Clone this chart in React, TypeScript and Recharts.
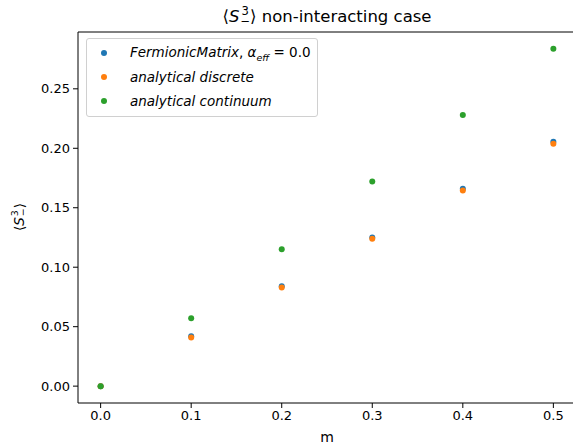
import React from 'react'
import {
  ScatterChart,
  Scatter,
  XAxis,
  YAxis,
  ReferenceLine,
} from 'recharts'

const mValues = [0.0, 0.1, 0.2, 0.3, 0.4, 0.5]
const fermionic = [0.0, 0.042, 0.084, 0.125, 0.166, 0.2055]
const discrete = [0.0, 0.041, 0.083, 0.124, 0.1644, 0.2039]
const continuum = [0.0, 0.057, 0.115, 0.172, 0.228, 0.2836]

const xTicks = [0, 0.1, 0.2, 0.3, 0.4, 0.5]
const yTicks = [0, 0.05, 0.1, 0.15, 0.2, 0.25]

const X_DOMAIN: [number, number] = [-0.025, 0.525]
const Y_DOMAIN: [number, number] = [-0.01418, 0.29778]

const FONT = '"DejaVu Sans", sans-serif'

const toPoints = (ys: number[]) => mValues.map((m, i) => ({ m, v: ys[i] }))

const Dot = (color: string) => (props: any) => (
  <circle cx={props.cx} cy={props.cy} r={3} fill={color} />
)

// stacked S with ^3 and _- like matplotlib mathtext
function SMath({ size }: { size: number }) {
  return (
    <span style={{ whiteSpace: 'nowrap' }}>
      ⟨<span style={{ fontStyle: 'italic' }}>S</span>
      <span
        style={{
          display: 'inline-flex',
          flexDirection: 'column',
          fontSize: size * 0.7,
          lineHeight: 0.85,
          verticalAlign: 'middle',
          marginLeft: 1,
          position: 'relative',
          top: -1,
        }}
      >
        <span>3</span>
        <span>−</span>
      </span>
      ⟩
    </span>
  )
}

const series = [
  { name: 'fermionic', color: '#1f77b4', data: toPoints(fermionic) },
  { name: 'discrete', color: '#ff7f0e', data: toPoints(discrete) },
  { name: 'continuum', color: '#2ca02c', data: toPoints(continuum) },
]

export default function App() {
  return (
    <div
      style={{
        position: 'absolute',
        left: 0,
        top: 0,
        width: 573,
        height: 446,
        overflow: 'hidden',
        background: '#fff',
        fontFamily: FONT,
      }}
    >
      <ScatterChart
        width={600}
        height={446}
        margin={{ top: 32, right: 24, bottom: 0, left: 0 }}
      >
        <XAxis
          type="number"
          dataKey="m"
          domain={X_DOMAIN}
          ticks={xTicks}
          allowDataOverflow
          tickFormatter={(v: number) => v.toFixed(1)}
          height={43}
          tickSize={5}
          tickMargin={3}
          stroke="#000"
          tick={{ fill: '#000', fontSize: 13, fontFamily: FONT }}
          label={{ value: 'm', position: 'insideBottom', offset: 4, fill: '#000', fontSize: 14, fontFamily: FONT }}
        />
        <YAxis
          type="number"
          dataKey="v"
          domain={Y_DOMAIN}
          ticks={yTicks}
          allowDataOverflow
          tickFormatter={(v: number) => v.toFixed(2)}
          width={78}
          tickSize={5}
          tickMargin={3}
          stroke="#000"
          tick={{ fill: '#000', fontSize: 13, fontFamily: FONT }}
        />
        <ReferenceLine y={Y_DOMAIN[1]} stroke="#000" strokeWidth={1} ifOverflow="visible" />
        {series.map((s) => (
          <Scatter
            key={s.name}
            name={s.name}
            data={s.data}
            fill={s.color}
            shape={Dot(s.color)}
            isAnimationActive={false}
          />
        ))}
      </ScatterChart>

      <div
        style={{
          position: 'absolute',
          top: 7,
          left: 78,
          width: 498,
          textAlign: 'center',
          fontSize: 16.5,
          color: '#000',
        }}
      >
        <SMath size={16.5} /> non-interacting case
      </div>

      <div
        style={{
          position: 'absolute',
          left: 20,
          top: 217,
          transform: 'translate(-50%, -50%) rotate(-90deg)',
          fontSize: 13.5,
          color: '#000',
        }}
      >
        <SMath size={13.5} />
      </div>

      <div
        style={{
          position: 'absolute',
          left: 86,
          top: 38,
          width: 230,
          height: 77,
          border: '1px solid #d0d0d0',
          borderRadius: 3,
          background: 'rgba(255,255,255,0.8)',
          fontSize: 13.5,
          color: '#000',
        }}
      >
        {[
          {
            c: '#1f77b4',
            label: (
              <span>
                <i>FermionicMatrix</i>, <i>α</i>
                <sub style={{ fontSize: 9.5, fontStyle: 'italic' }}>eff</sub> = 0.0
              </span>
            ),
          },
          { c: '#ff7f0e', label: <i>analytical discrete</i> },
          { c: '#2ca02c', label: <i>analytical continuum</i> },
        ].map((e, i) => (
          <div
            key={i}
            style={{
              position: 'absolute',
              left: 0,
              top: 4 + i * 24,
              height: 20,
              display: 'flex',
              alignItems: 'center',
            }}
          >
            <span
              style={{
                display: 'inline-block',
                width: 6,
                height: 6,
                borderRadius: 3,
                background: e.c,
                marginLeft: 14,
                marginRight: 23,
              }}
            />
            {e.label}
          </div>
        ))}
      </div>
    </div>
  )
}
